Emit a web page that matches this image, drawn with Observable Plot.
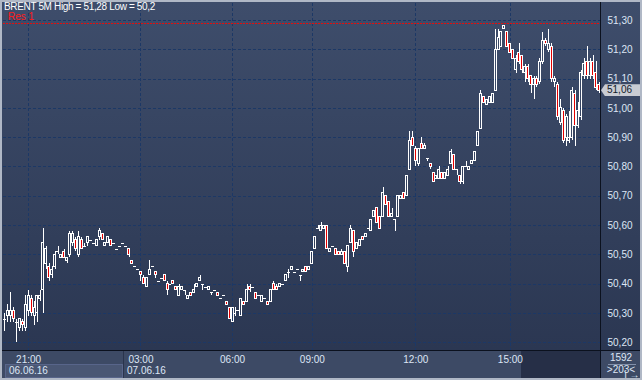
<!DOCTYPE html>
<html><head><meta charset="utf-8">
<script src="https://cdn.jsdelivr.net/npm/d3@7"></script>
<script src="https://cdn.jsdelivr.net/npm/@observablehq/plot@0.6"></script>
<style>
body{margin:0;background:#b0b8c6;}
#wrap{position:relative;width:642px;height:380px;overflow:hidden;background:#b0b8c6;font-family:"Liberation Sans",Arial,sans-serif;}
.abs{position:absolute;}
#plotbg{left:2px;top:2px;width:598px;height:348px;background:linear-gradient(#3e4d6b,#2b3752);}
#axbg{left:601px;top:2px;width:39px;height:348px;background:linear-gradient(#3e4d6b,#2b3752);}
#botbg{left:2px;top:351px;width:638px;height:27px;background:#3d4a65;}
#dark{left:521px;top:351px;width:79px;height:27px;background:#262f47;}
#datebox{left:5px;top:364px;width:116px;height:12px;background:#4a5774;border:1px solid #58658a;}
#divider{left:123px;top:351px;width:1px;height:27px;background:#2a344c;}
#vline{left:600px;top:2px;width:1px;height:376px;background:#0b111e;}
#hline{left:2px;top:350px;width:638px;height:1px;background:#0b111e;}
#chart{left:0;top:0;}
.lbl{font-size:10px;color:#dde6f5;white-space:nowrap;line-height:10px;}
#title{left:4px;top:2px;color:#ffffff;letter-spacing:-0.35px;}
#res{left:8px;top:13px;color:#ff1a1a;line-height:8px;}
#d1{left:9px;top:366px;}
#d2{left:127px;top:366px;}
#cnt{left:601px;top:352px;width:40px;text-align:center;line-height:12px;white-space:normal;}
#cntline{left:608px;top:364px;width:28px;height:1px;background:#8290aa;}
#tag{left:601px;width:39px;height:12px;background:#c9ccd3;clip-path:polygon(0 50%,4px 0,100% 0,100% 100%,4px 100%);color:#111a2a;font-size:10px;line-height:12px;}
#tag span{position:absolute;left:6px;top:0;}
</style></head>
<body>
<div id="wrap">
  <div id="plotbg" class="abs"></div>
  <div id="axbg" class="abs"></div>
  <div id="botbg" class="abs"></div>
  <div id="dark" class="abs"></div>
  <div id="datebox" class="abs"></div>
  <div id="divider" class="abs"></div>
  <div id="chart" class="abs"></div>
  <div id="vline" class="abs"></div>
  <div id="hline" class="abs"></div>
  <div id="res" class="abs lbl">Res 1</div>
  <div id="title" class="abs lbl">BRENT 5M High = 51,28 Low = 50,2</div>
  <div id="d1" class="abs lbl">06.06.16</div>
  <div id="d2" class="abs lbl">07.06.16</div>
  <div id="cntline" class="abs"></div>
  <div id="cnt" class="abs lbl">1592<br>&gt;203&lt;</div>
  <div id="tag" class="abs"><span>51,06</span></div>
</div>
<script>
const opens = [
50.28,50.29,50.29,50.31,50.27,50.25,50.27,50.25,50.31,50.35,50.29,50.30,50.35,50.38,50.47,50.46,50.43,50.46,50.51,50.49,50.51,50.48,50.50,50.54,50.55,50.50,50.55,50.53,50.54,50.55,50.54,50.53,50.56,50.57,50.53,50.54,50.55,50.54,50.52,50.53,50.54,50.53,50.52,50.48,50.46,50.45,
50.44,50.42,50.39,50.43,50.46,50.44,50.41,50.42,50.43,50.40,50.40,50.41,50.39,50.36,50.38,50.38,50.35,50.37,50.37,50.39,50.41,50.40,50.39,50.38,50.37,50.38,50.37,50.35,50.36,50.34,50.32,50.27,
50.30,50.31,50.29,50.34,50.34,50.39,50.39,50.37,50.36,50.34,50.35,50.34,50.34,50.40,50.39,50.39,50.40,50.41,50.44,50.45,50.44,50.45,50.43,50.44,50.46,50.45,50.47,
50.52,50.59,50.58,50.59,50.60,50.51,50.53,50.52,50.51,50.50,50.51,50.46,50.54,50.58,50.52,50.53,50.56,50.56,50.59,50.58,50.63,50.66,50.63,50.63,50.70,50.68,50.63,50.62,50.63,50.69,50.71,50.70,50.79,50.90,
50.86,50.81,50.88,50.86,50.83,50.81,50.78,50.76,50.76,50.78,50.76,50.77,50.81,50.84,50.79,50.77,50.75,50.80,50.79,50.81,50.82,50.87,50.93,51.04,51.01,51.02,51.02,51.06,51.20,51.21,51.27,51.26,51.22,51.20,
51.13,51.19,51.18,51.12,51.14,51.11,51.08,51.10,51.09,51.16,51.23,51.20,51.21,51.09,51.08,50.95,50.99,50.90,50.89,50.90,51.05,50.94,50.97,51.11,51.16,51.11,51.16,51.12,51.08];
const highs = [
50.30,50.33,50.37,50.32,50.28,50.28,50.28,50.36,50.38,50.36,50.34,50.36,50.38,50.59,50.53,50.47,50.46,50.51,50.53,50.50,50.52,50.49,50.58,50.58,50.56,50.58,50.56,50.54,50.56,50.55,50.54,50.55,50.59,50.57,50.54,50.56,50.55,50.54,50.52,50.53,50.54,50.53,50.52,50.48,50.46,50.45,
50.44,50.43,50.42,50.48,50.46,50.44,50.41,50.42,50.43,50.41,50.40,50.41,50.39,50.40,50.39,50.38,50.36,50.37,50.40,50.40,50.43,50.40,50.39,50.39,50.37,50.38,50.37,50.35,50.36,50.34,50.32,50.32,
50.32,50.31,50.35,50.34,50.40,50.40,50.39,50.37,50.36,50.36,50.35,50.34,50.38,50.41,50.40,50.40,50.40,50.43,50.45,50.46,50.44,50.45,50.43,50.45,50.46,50.46,50.51,
50.56,50.60,50.61,50.60,50.60,50.52,50.53,50.52,50.51,50.52,50.51,50.53,50.60,50.58,50.54,50.55,50.56,50.57,50.59,50.62,50.65,50.66,50.63,50.73,50.70,50.68,50.66,50.62,50.70,50.70,50.71,50.77,50.92,50.92,
50.87,50.86,50.90,50.88,50.83,50.81,50.78,50.77,50.80,50.78,50.78,50.80,50.86,50.84,50.79,50.77,50.80,50.82,50.80,50.82,50.85,50.92,51.06,51.04,51.03,51.04,51.05,51.27,51.27,51.26,51.28,51.26,51.22,51.20,
51.18,51.22,51.18,51.15,51.15,51.11,51.11,51.11,51.17,51.26,51.24,51.27,51.22,51.11,51.09,51.03,51.00,50.98,50.99,51.07,51.06,51.02,51.13,51.17,51.21,51.17,51.18,51.16,51.09];
const lows = [
50.24,50.27,50.27,50.27,50.20,50.24,50.24,50.24,50.29,50.29,50.26,50.27,50.34,50.30,50.45,50.41,50.42,50.45,50.50,50.49,50.49,50.47,50.49,50.53,50.51,50.49,50.52,50.53,50.53,50.55,50.54,50.53,50.55,50.55,50.53,50.54,50.53,50.54,50.52,50.53,50.54,50.53,50.49,50.47,50.46,50.45,
50.41,50.40,50.39,50.43,50.46,50.42,50.41,50.42,50.41,50.36,50.40,50.40,50.38,50.36,50.38,50.36,50.35,50.36,50.37,50.39,50.41,50.38,50.39,50.38,50.36,50.38,50.36,50.35,50.36,50.33,50.28,50.27,
50.29,50.31,50.29,50.33,50.34,50.37,50.39,50.35,50.36,50.34,50.35,50.33,50.34,50.38,50.38,50.39,50.40,50.41,50.42,50.45,50.44,50.45,50.41,50.44,50.44,50.45,50.47,
50.52,50.59,50.58,50.59,50.52,50.51,50.53,50.50,50.50,50.50,50.47,50.44,50.54,50.49,50.52,50.53,50.55,50.56,50.59,50.58,50.63,50.61,50.59,50.63,50.67,50.63,50.63,50.58,50.63,50.69,50.69,50.70,50.79,50.87,
50.80,50.80,50.86,50.86,50.82,50.79,50.75,50.76,50.76,50.76,50.76,50.77,50.81,50.79,50.77,50.74,50.74,50.80,50.79,50.81,50.82,50.87,50.93,51.02,51.01,51.02,51.02,51.06,51.20,51.21,51.27,51.21,51.19,51.17,
51.12,51.15,51.12,51.09,51.09,51.05,51.03,51.07,51.08,51.15,51.21,51.19,51.09,51.07,50.96,50.94,50.88,50.87,50.88,50.89,50.87,50.93,50.96,51.10,51.10,51.10,51.10,51.06,51.05];
const closes = [
50.28,50.31,50.31,50.28,50.27,50.28,50.26,50.33,50.36,50.30,50.32,50.36,50.36,50.54,50.52,50.42,50.45,50.50,50.51,50.50,50.49,50.49,50.57,50.57,50.52,50.56,50.52,50.53,50.56,50.55,50.54,50.55,50.58,50.55,50.54,50.56,50.53,50.54,50.52,50.53,50.54,50.53,50.50,50.47,50.46,50.45,
50.43,50.40,50.42,50.45,50.46,50.43,50.41,50.42,50.41,50.38,50.40,50.40,50.38,50.39,50.39,50.38,50.36,50.36,50.38,50.40,50.42,50.40,50.39,50.39,50.37,50.38,50.36,50.35,50.36,50.33,50.28,50.32,
50.30,50.31,50.35,50.33,50.38,50.38,50.39,50.35,50.36,50.36,50.35,50.33,50.38,50.38,50.38,50.40,50.40,50.43,50.44,50.46,50.44,50.45,50.43,50.45,50.44,50.46,50.51,
50.56,50.59,50.60,50.60,50.52,50.52,50.53,50.50,50.50,50.51,50.47,50.53,50.59,50.51,50.54,50.55,50.55,50.57,50.59,50.62,50.65,50.61,50.59,50.71,50.67,50.63,50.64,50.62,50.70,50.70,50.69,50.77,50.89,50.87,
50.82,50.86,50.86,50.87,50.83,50.80,50.75,50.77,50.79,50.76,50.78,50.79,50.85,50.79,50.79,50.75,50.80,50.80,50.80,50.82,50.85,50.92,51.05,51.02,51.03,51.04,51.05,51.20,51.24,51.26,51.28,51.21,51.19,51.17,
51.17,51.16,51.13,51.14,51.10,51.08,51.10,51.08,51.16,51.23,51.22,51.22,51.10,51.10,50.97,51.00,50.89,50.97,50.90,51.06,50.94,50.99,51.12,51.15,51.11,51.16,51.11,51.07,51.06];

const timeTickIdx = [8, 46, 77, 104, 139, 171];
const timeTickLabels = ["21:00", "03:00", "06:00", "09:00", "12:00", "15:00"];
const priceTicks = [50.2, 50.3, 50.4, 50.5, 50.6, 50.7, 50.8, 50.9, 51.0, 51.1, 51.2, 51.3];
const resLevel = [51.29];
const yDomain = [50.1737, 51.358];

const n = opens.length;
const candles = opens.map((o, i) => ({i, o, h: highs[i], l: lows[i], c: closes[i]}));
const ups = candles.filter(d => d.c > d.o);
const downs = candles.filter(d => d.c < d.o);
const flats = candles.filter(d => d.c === d.o);
const upperW = candles.filter(d => d.h > Math.max(d.o, d.c));
const lowerW = candles.filter(d => d.l < Math.min(d.o, d.c));
const labelOf = new Map(timeTickIdx.map((t, k) => [t, timeTickLabels[k]]));
const grid = "#1c3866";
const RED = "#e40000";

const chart = Plot.plot({
  width: 642, height: 380,
  marginLeft: 3, marginRight: 42, marginTop: 3, marginBottom: 30,
  x: {domain: [-0.5, n - 0.5]},
  y: {domain: yDomain},
  style: {background: "transparent", fontFamily: "'Liberation Sans', Arial, sans-serif", fontSize: "10px", color: "#dde6f5", overflow: "visible"},
  marks: [
    Plot.ruleY(priceTicks, {stroke: grid, strokeDasharray: "3,2", shapeRendering: "crispEdges"}),
    Plot.ruleX(timeTickIdx, {stroke: grid, strokeDasharray: "3,2", shapeRendering: "crispEdges"}),
    Plot.ruleY(resLevel, {stroke: "#e01010", strokeDasharray: "2,1", shapeRendering: "crispEdges"}),
    Plot.ruleX(upperW, {x: "i", y1: d => Math.max(d.o, d.c), y2: "h", stroke: "white", shapeRendering: "crispEdges"}),
    Plot.ruleX(lowerW, {x: "i", y1: "l", y2: d => Math.min(d.o, d.c), stroke: "white", shapeRendering: "crispEdges"}),
    Plot.rect(ups, {x1: d => d.i - 0.34, x2: d => d.i + 0.34, y1: "o", y2: "c", fill: "none", stroke: "white", shapeRendering: "crispEdges"}),
    Plot.rect(downs, {x1: d => d.i - 0.34, x2: d => d.i + 0.34, y1: "o", y2: "c", fill: RED, stroke: "white", shapeRendering: "crispEdges"}),
    Plot.ruleY(flats, {y: "c", x1: d => d.i - 0.5, x2: d => d.i + 0.5, stroke: "white", shapeRendering: "crispEdges"}),
    Plot.axisY(priceTicks, {anchor: "right", tickSize: 0, tickPadding: 7, fill: "#dde6f5",
      tickFormat: d => d.toFixed(2).replace(".", ",")}),
    Plot.axisX(timeTickIdx, {anchor: "bottom", tickSize: 0, tickPadding: 5, fill: "#dde6f5",
      tickFormat: d => labelOf.get(d)})
  ]
});
document.getElementById("chart").appendChild(chart);
const yS = chart.scale("y");
document.getElementById("tag").style.top = (yS.apply(closes[n - 1]) - 6) + "px";
</script>
</body></html>
